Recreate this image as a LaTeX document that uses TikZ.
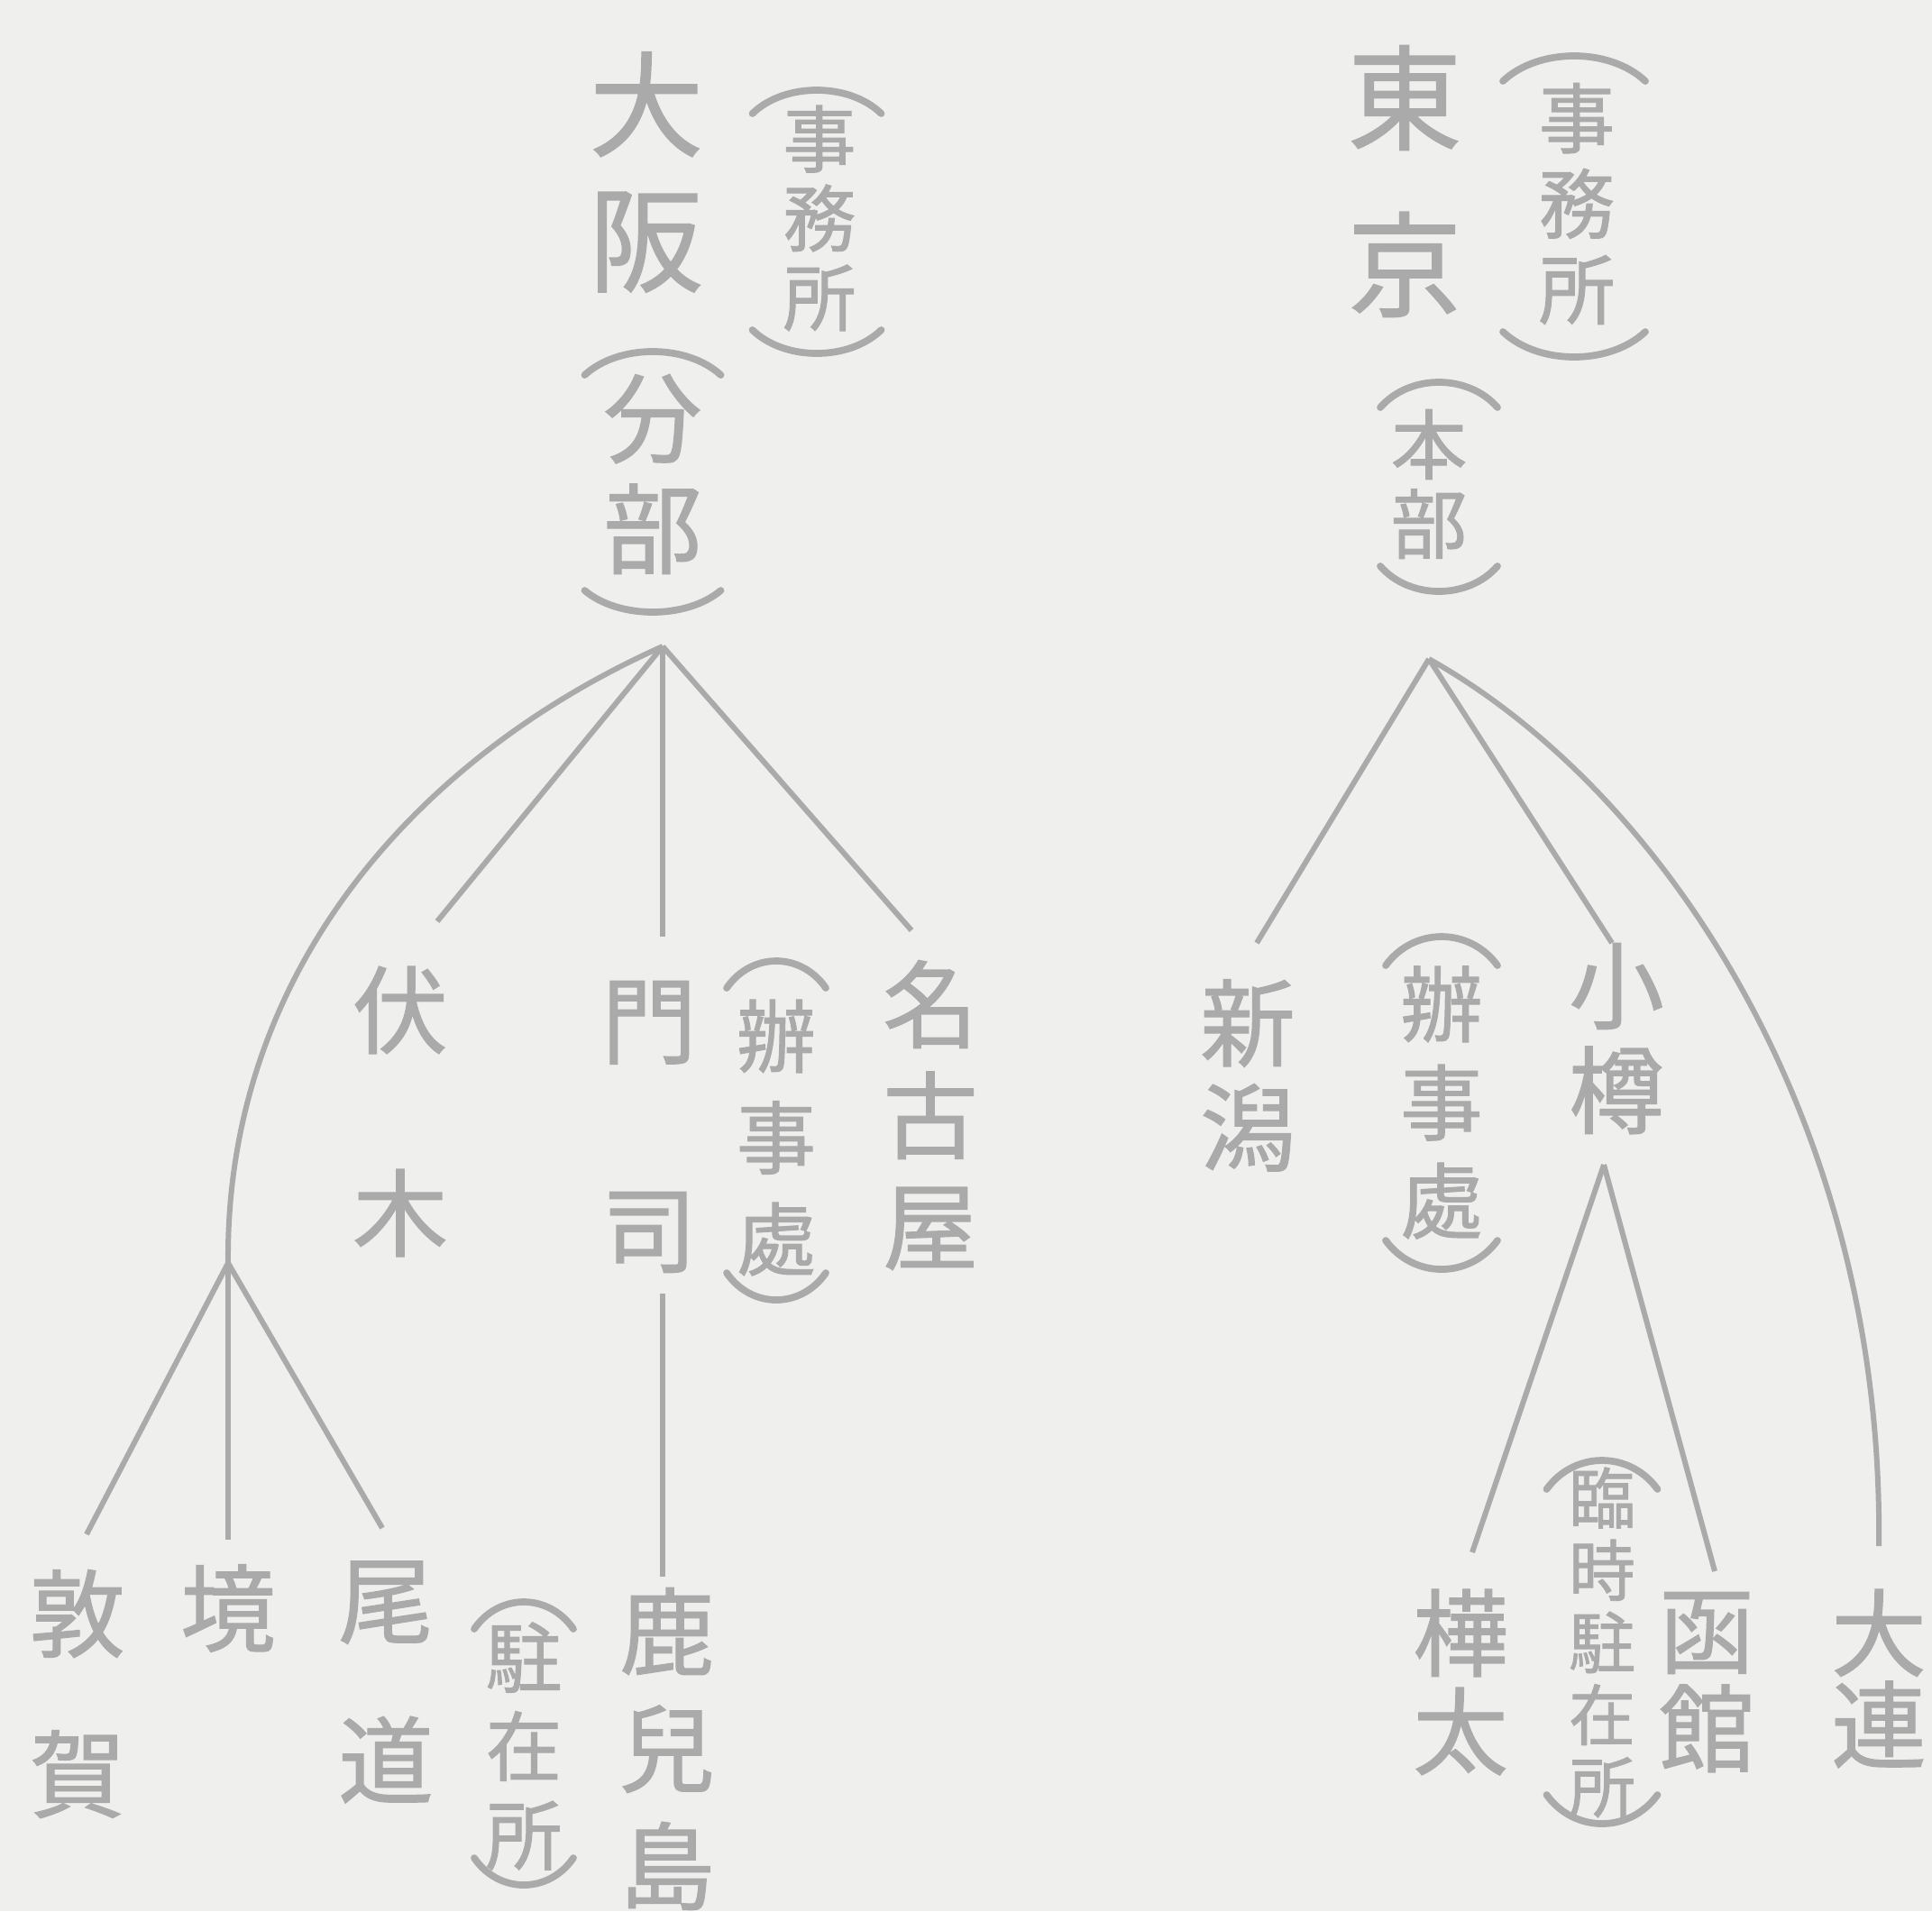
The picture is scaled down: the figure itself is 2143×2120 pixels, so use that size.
\documentclass[tikz,border=0pt]{standalone}
\usepackage{fontspec}
\setmainfont{Noto Sans CJK JP}[FakeBold=1.2]
\definecolor{ink}{RGB}{170,170,170}
\definecolor{paper}{RGB}{239,239,237}
\newcommand\fsz[2]{\fontsize{#1pt}{#2pt}\selectfont}
\tikzset{
  lab/.style={text=ink, inner sep=0pt, align=center},
  ln/.style={draw=ink, line width=1.7pt},
  brk/.style={draw=ink, line width=2.2pt, line cap=round},
}
% vertical-text parentheses: cx, apex y, width, height
\newcommand\brtop[4]{\draw[brk] ({#1-#3/2},{#2+#4}) .. controls ({#1-#3/4},{#2-#4/3}) and ({#1+#3/4},{#2-#4/3}) .. ({#1+#3/2},{#2+#4});}
\newcommand\brbot[4]{\draw[brk] ({#1-#3/2},{#2-#4}) .. controls ({#1-#3/4},{#2+#4/3}) and ({#1+#3/4},{#2+#4/3}) .. ({#1+#3/2},{#2-#4});}
\begin{document}
\begin{tikzpicture}[x=0.01cm, y=-0.01cm]
\fill[paper] (0,0) rectangle (2143,2120);
\useasboundingbox (0,0) rectangle (2143,2120);

% ---------------- Osaka tree ----------------
\node[lab, font=\fsz{36}{42.7}] (osaka) at (717,191) {大\\阪};
\node[lab, font=\fsz{23}{25}] (osakaj) at (909,242) {事\\務\\所};
\brtop{906}{100}{143}{26}
\brbot{906}{392}{143}{26}
\node[lab, font=\fsz{31}{35}] (bunbu) at (724,526) {分\\部};
\brtop{724}{390}{151}{26}
\brbot{724}{679}{151}{24}

\node[lab, font=\fsz{30}{64}] (fushiki) at (444,1233) {伏\\木};
\node[lab, font=\fsz{30}{66}] (moji) at (720,1250) {門\\司};
\node[lab, font=\fsz{25}{32}] (benji1) at (861,1262) {辦\\事\\處};
\brtop{861}{1066}{110}{30}
\brbot{861}{1442}{110}{30}
\node[lab, font=\fsz{30}{35}] (nagoya) at (1032,1237) {名\\古\\屋};

\node[lab, font=\fsz{30}{50.6}] (tsuruga) at (86,1879) {敦\\賀};
\node[lab, font=\fsz{30}{50}] (sakai) at (253,1784) {境};
\node[lab, font=\fsz{30}{50.4}] (onomichi) at (428,1866) {尾\\道};
\node[lab, font=\fsz{24}{28}] (chuzai1) at (581,1937) {駐\\在\\所};
\brtop{581}{1777}{110}{30}
\brbot{581}{2091}{110}{30}
\node[lab, font=\fsz{30}{37}] (kagoshima) at (740,1940) {鹿\\兒\\島};

\coordinate (A1) at (735,717);
\coordinate (f1) at (485,1022);
\coordinate (m1) at (735,1039);
\coordinate (n1) at (1011,1032);
\coordinate (J1) at (253,1401);
\coordinate (m2) at (735,1435);
\coordinate (m3) at (735,1749);
\coordinate (t1) at (96,1702);
\coordinate (s1) at (253,1708);
\coordinate (o1) at (424,1695);

\draw[ln] (A1) -- (f1);
\draw[ln] (A1) -- (m1);
\draw[ln] (A1) -- (n1);
\draw[ln] (A1) .. controls (460,840) and (250,1080) .. (J1);
\draw[ln] (m2) -- (m3);
\draw[ln] (J1) -- (t1);
\draw[ln] (J1) -- (s1);
\draw[ln] (J1) -- (o1);

% ---------------- Tokyo tree ----------------
\node[lab, font=\fsz{36}{52.6}] (tokyo) at (1558,201) {東\\京};
\node[lab, font=\fsz{24}{27}] (tokyoj) at (1749,226) {事\\務\\所};
\brtop{1746}{62}{158}{28}
\brbot{1746}{396}{158}{28}
\node[lab, font=\fsz{24}{25}] (honbu) at (1585,537) {本\\部};
\brtop{1596}{424}{130}{28}
\brbot{1596}{656}{130}{28}

\node[lab, font=\fsz{30}{33}] (niigata) at (1384,1193) {新\\潟};
\node[lab, font=\fsz{26}{31}] (benji2) at (1599,1223) {辦\\事\\處};
\brtop{1599}{1039}{124}{32}
\brbot{1599}{1408}{124}{32}
\node[lab, font=\fsz{30}{33}] (otaru) at (1793,1152) {小\\樽};

\node[lab, font=\fsz{30}{31}] (karafuto) at (1620,1866) {樺\\太};
\node[lab, font=\fsz{21}{22.8}] (rinji) at (1777,1822) {臨\\時\\駐\\在\\所};
\brtop{1777}{1620}{123}{32}
\brbot{1777}{2023}{123}{32}
\node[lab, font=\fsz{30}{31}] (hakodate) at (1893,1866) {函\\館};
\node[lab, font=\fsz{30}{29}] (dairen) at (2084,1862) {大\\連};

\coordinate (A2) at (1585,731);
\coordinate (ni1) at (1394,1046);
\coordinate (ot1) at (1788,1046);
\coordinate (d1) at (2084,1715);
\coordinate (J2) at (1779,1292);
\coordinate (k1) at (1633,1722);
\coordinate (h1) at (1902,1743);

\draw[ln] (A2) -- (ni1);
\draw[ln] (A2) -- (ot1);
\draw[ln] (A2) .. controls (1850,880) and (2090,1250) .. (d1);
\draw[ln] (J2) -- (k1);
\draw[ln] (J2) -- (h1);
\end{tikzpicture}
\end{document}
